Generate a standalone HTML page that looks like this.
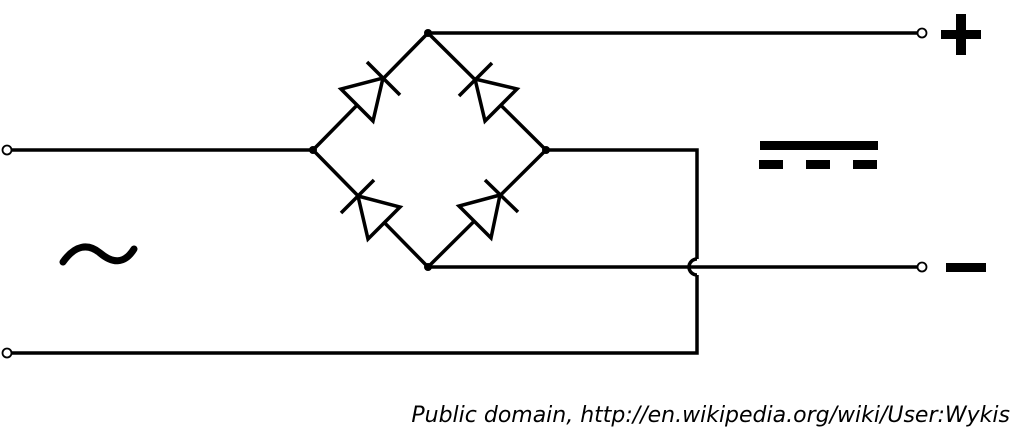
<!DOCTYPE html>
<html><head><style>body{margin:0;background:#fff}svg{display:block}</style></head><body>
<svg width="1024" height="427" viewBox="0 0 1024 427" xmlns="http://www.w3.org/2000/svg">
<g stroke="#000" stroke-width="3.5" fill="none">
<path d="M12 150H313M313 150L428 33L546 150L428 267Z"/>
<path d="M428 33H917"/>
<path d="M546 150H697V259M697 275V353H12"/>
<path d="M428 267H917"/>
<path d="M697 259A8 8 0 0 0 697 275"/>
</g>
<g stroke="#000" stroke-width="3.5" fill="#fff" stroke-linejoin="miter">
<path d="M383 78L341 89L373 121Z"/><path d="M367 62L400 95"/>
<path d="M475 79L517 89L485 121Z"/><path d="M459 96L492 63"/>
<path d="M358 196L400 207L368 239Z"/><path d="M341 213L374 180"/>
<path d="M500 195L459 206L491 238Z"/><path d="M485 180L518 212"/>
</g>
<g fill="#000">
<circle cx="313" cy="150" r="4"/><circle cx="428" cy="33" r="4"/><circle cx="546" cy="150" r="4"/><circle cx="428" cy="267" r="4"/>
<rect x="760" y="141" width="118" height="9"/>
<rect x="759" y="160" width="24" height="9"/><rect x="806" y="160" width="24" height="9"/><rect x="853" y="160" width="24" height="9"/>
<rect x="941" y="30" width="40" height="9"/><rect x="956" y="14" width="10" height="41"/>
<rect x="946" y="263" width="40" height="9"/>
</g>
<g stroke="#000" stroke-width="1.8" fill="#fff">
<circle cx="7" cy="150" r="4.5"/><circle cx="7" cy="353" r="4.5"/>
<circle cx="922" cy="33" r="4.5"/><circle cx="922" cy="267" r="4.5"/>
</g>
<path d="M63 262C75 245 88 243 100 253C112 263 124 265 134 249" stroke="#000" stroke-width="7" fill="none" stroke-linecap="round"/>
<text x="1010" y="422" text-anchor="end" font-family="DejaVu Sans, Liberation Sans, sans-serif" font-style="italic" font-size="22">Public domain, http://en.wikipedia.org/wiki/User:Wykis</text>
</svg>
</body></html>
